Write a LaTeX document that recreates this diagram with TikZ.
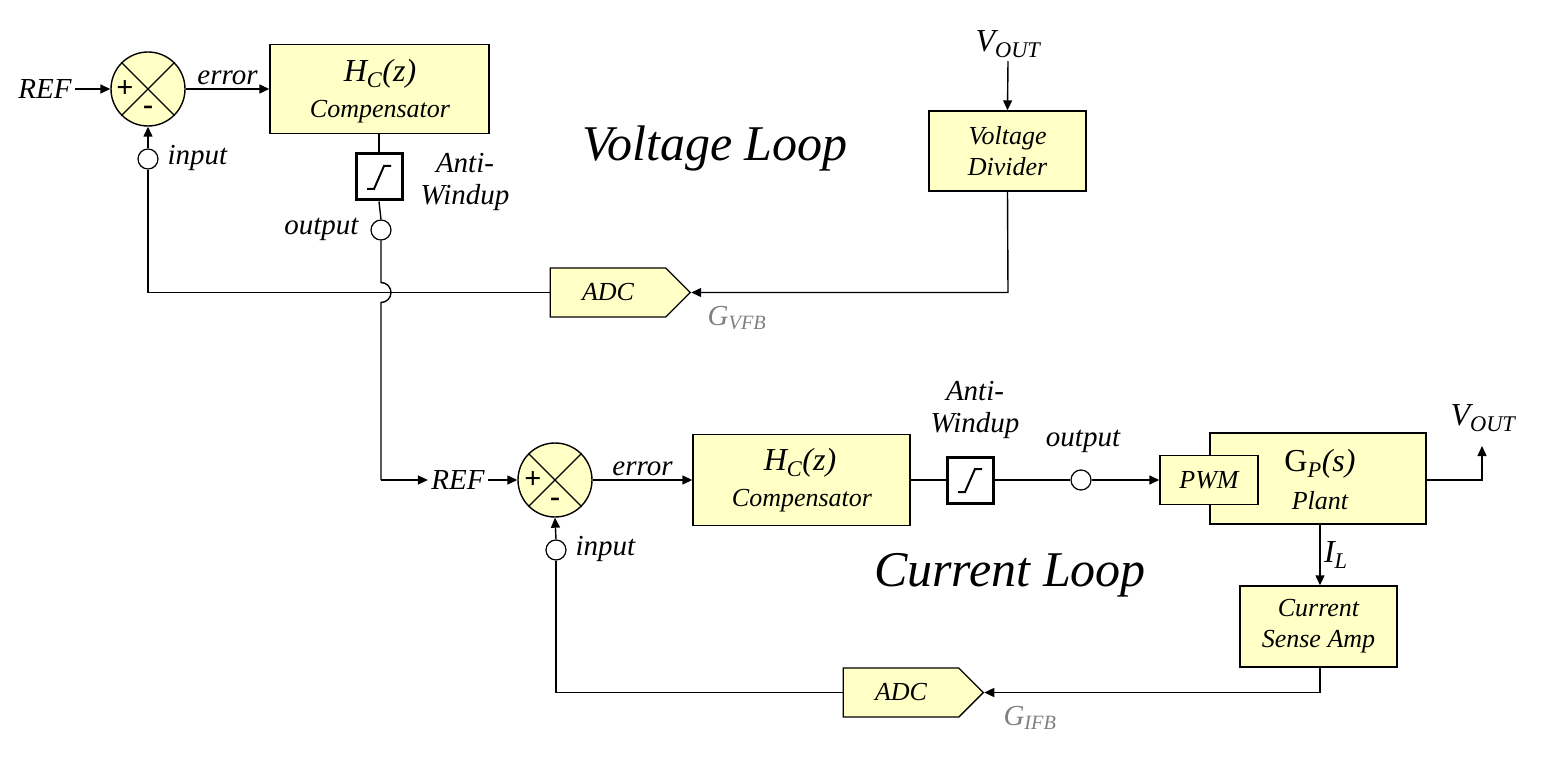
\documentclass[tikz,border=0pt]{standalone}
\usepackage{fontspec}
\setmainfont{Liberation Serif}
\usetikzlibrary{arrows.meta,shapes.geometric,shapes.symbols}
\definecolor{blockfill}{HTML}{FFFFC6}
\tikzset{
  blk/.style={draw, fill=blockfill, line width=1.4pt, inner sep=0pt, align=center, font=\fontsize{26}{31}\selectfont\itshape},
  txt/.style={align=center, font=\fontsize{26}{31}\selectfont\itshape},
  sumj/.style={draw, circle, fill=blockfill, line width=1.4pt, minimum size=74pt, inner sep=0pt},
  tap/.style={draw, circle, fill=white, line width=1.2pt, minimum size=20pt, inner sep=0pt},
  aw/.style={draw, fill=white, line width=3pt, minimum width=46pt, minimum height=46pt, inner sep=0pt},
  lbl/.style={font=\fontsize{29}{32}\selectfont\itshape, align=center},
  sgn/.style={font=\fontsize{30}{30}\selectfont\bfseries},
  ln/.style={line width=1.4pt},
  arr/.style={line width=1.4pt, -{Triangle[length=10pt,width=9pt]}}
}
\begin{document}
\begin{tikzpicture}[x=1pt, y=-1pt]
  \useasboundingbox (0,0) rectangle (1545,767);

  % voltage loop
  \node[sumj] (s1) at (148,89) {};
  \draw[ln] (s1.north west) -- (s1.south east) (s1.north east) -- (s1.south west);
  \node[sgn] at (125,89) {+};
  \node[sgn] at (148,110) {-};
  \node[lbl] (ref1) at (45,89) {REF};
  \node[blk, minimum width=219pt, minimum height=89pt] (hc1) at (379.5,89) {};
  \node[font=\fontsize{32}{34}\selectfont\itshape] at (380,74) {H\textsubscript{C}(z)};
  \node[txt] at (380,112) {Compensator};
  \node[aw] (aw1) at (379,177) {};
  \draw[line width=2pt] (367,189) -- (374,189) -- (384,166) -- (391,166);
  \node[lbl] at (465,182) {Anti-\\Windup};
  \node[tap] (o1) at (381,230) {};
  \node[lbl, anchor=east] at (362,229) {output};
  \node[tap] (i1) at (148,159) {};
  \node[lbl, anchor=west] at (164,158) {input};
  \node[font=\fontsize{50}{54}\selectfont\itshape] at (715,148) {Voltage Loop};
  \node[blk, minimum width=157pt, minimum height=80pt] (vd) at (1007.5,151) {Voltage\\Divider};
  \node[font=\fontsize{32}{34}\selectfont\itshape] (vo1) at (1008,44) {V\textsubscript{OUT}};
  \node[blk, signal, signal to=east, signal pointer angle=90, minimum width=140pt, minimum height=49pt] (adc1) at (608,292.5) {ADC};
  \node[font=\fontsize{29}{32}\selectfont\itshape, text=gray] at (737,318) {G\textsubscript{VFB}};

  \draw[arr] (ref1.east) -- (s1.west);
  \draw[arr] (s1.east) -- node[lbl, above] {error} (hc1.west);
  \draw[ln] (hc1.south -| aw1.north) -- (aw1.north);
  \draw[ln] (aw1.south) -- (o1.north);
  \draw[arr] (i1.north) -- (s1.south);
  \draw[arr] (vo1.south) -- (vd.north);
  \coordinate (c1) at (1008,292.5);
  \draw[arr] (vd.south) -- (c1) -- (adc1.east);
  \coordinate (c2) at (148,292.5);
  \draw[ln] (adc1.west) -- (c2) -- (i1.south);

  % current loop
  \node[lbl] (ref2) at (458,480) {REF};
  \node[sumj] (s2) at (555,480) {};
  \draw[ln] (s2.north west) -- (s2.south east) (s2.north east) -- (s2.south west);
  \node[sgn] at (533,480) {+};
  \node[sgn] at (555,502) {-};
  \node[blk, minimum width=217pt, minimum height=91pt] (hc2) at (801.5,480) {};
  \node[font=\fontsize{32}{34}\selectfont\itshape] at (800,463) {H\textsubscript{C}(z)};
  \node[txt] at (802,501) {Compensator};
  \node[aw] (aw2) at (970,480) {};
  \draw[line width=2pt] (958,492) -- (965,492) -- (975,469) -- (982,469);
  \node[lbl] at (975,410) {Anti-\\Windup};
  \node[tap] (o2) at (1081,480) {};
  \node[lbl] at (1083,441) {output};
  \node[blk, minimum width=216pt, minimum height=91pt] (pl) at (1318,478.5) {};
  \node[font=\fontsize{32}{34}\selectfont] at (1320,464) {G\textsubscript{\itshape P}\itshape(s)};
  \node[txt] at (1320,501) {Plant};
  \node[blk, minimum width=98pt, minimum height=49pt] (pwm) at (1209,480) {PWM};
  \coordinate (vo2c) at (1482,480);
  \node[font=\fontsize{32}{34}\selectfont\itshape] (vo2) at (1483,418) {V\textsubscript{OUT}};
  \node[blk, minimum width=157pt, minimum height=81pt] (csa) at (1318.5,626.5) {Current\\Sense Amp};
  \node[tap] (i2) at (556,550) {};
  \node[lbl, anchor=west] at (572,549) {input};
  \node[font=\fontsize{50}{54}\selectfont\itshape] at (1010,575) {Current Loop};
  \node[blk, signal, signal to=east, signal pointer angle=90, minimum width=140pt, minimum height=49pt] (adc2) at (901,692.5) {ADC};
  \node[font=\fontsize{29}{32}\selectfont\itshape, text=gray] at (1030,718) {G\textsubscript{IFB}};

  \coordinate (hop) at (381,282.5);
  \coordinate (c3) at (381,480);
  \draw[ln] (o1.south) -- (hop) arc[start angle=-90, end angle=90, radius=10] -- (c3);
  \draw[arr] (c3) -- (ref2.west);
  \draw[arr] (ref2.east) -- (s2.west);
  \draw[arr] (s2.east) -- node[lbl, above] {error} (hc2.west);
  \draw[ln] (hc2.east |- aw2.west) -- (aw2.west);
  \draw[ln] (aw2.east) -- (o2.west);
  \draw[arr] (o2.east) -- (pwm.west);
  \draw[arr] (pl.east |- vo2c) -- (vo2c) -- (1482,446);
  \draw[arr] (1320,524) -- node[font=\fontsize{32}{34}\selectfont\itshape, right] {I\textsubscript{L}} (csa.north -| 1320,0);
  \coordinate (c4) at (1320,692.5);
  \draw[arr] (csa.south -| c4) -- (c4) -- (adc2.east);
  \coordinate (c5) at (556,692.5);
  \draw[ln] (adc2.west) -- (c5) -- (i2.south);
  \draw[arr] (i2.north) -- (s2.south);
\end{tikzpicture}
\end{document}
